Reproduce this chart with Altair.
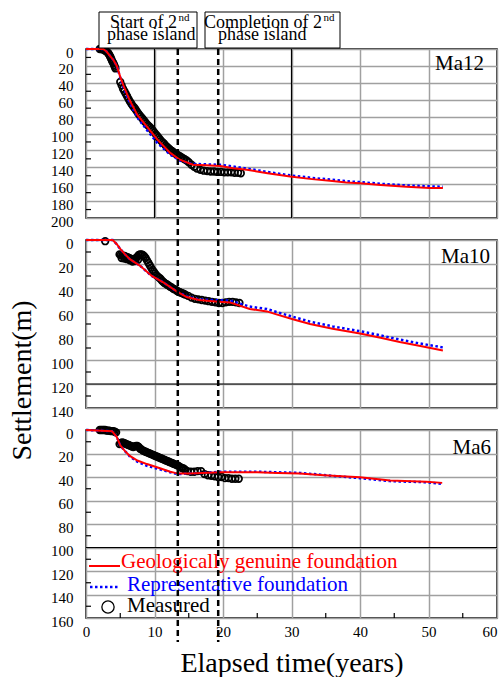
import altair as alt
import pandas as pd

FONT = "Liberation Serif"
PANEL_W = 411
GRID = "#a0a0a0"

# ---------------- data ----------------
x_ticks = [0, 10, 20, 30, 40, 50, 60]
x_minor = [5, 15, 25, 35, 45, 55]
event_years = [13.4, 19.3]
annot_line1 = ["Start of 2", "Completion of 2"]
annot_sup = ["nd", "nd"]
annot_line2 = ["phase island", "phase island"]
legend_labels = ["Geologically genuine foundation", "Representative foundation", "Measured"]
panel_labels = ["Ma12", "Ma10", "Ma6"]

# Ma12
ma12_y_ticks = [0, 20, 40, 60, 80, 100, 120, 140, 160, 180, 200]
ma12_y_minor = [10, 30, 50, 70, 90, 110, 130, 150, 170, 190]
ma12_dark_x = [10, 30]
ma12_dark_y = []
ma12_geo_t = [0, 2.5, 3.0, 3.5, 4.0, 4.5, 5.0, 5.5, 6.4, 7.5, 8.9, 10.4, 12.3, 13.7, 15.6, 17.5, 19.6,
              21.5, 23.5, 26.5, 29.8, 33.0, 35.6, 38.0, 40.0, 43.0, 46.8, 50.2, 52.1]
ma12_geo_s = [0, 0, 3, 8, 13, 20, 33, 44, 61, 78, 92, 107, 123, 131, 137, 137.5, 138.5,
              141, 143, 147, 151, 154, 156, 158, 159, 161, 163, 164.5, 164.5]
ma12_rep_t = ma12_geo_t
ma12_rep_s = [0, 0, 3, 8, 13, 20, 34, 46, 64, 81, 96, 111, 125, 132, 136, 136.5, 137,
              139, 141.5, 145.5, 149.5, 152.5, 154.5, 156.5, 157.5, 159.5, 161.5, 162.5, 163]
ma12_meas_t = [2.0, 2.2, 2.4, 2.6, 2.8, 3.0, 3.2, 3.3, 3.4, 3.5, 3.6, 3.7, 3.8, 3.9, 4.0, 4.1, 4.2, 4.3,
               5.0, 5.2, 5.4, 5.6, 5.8, 6.0, 6.2, 6.4, 6.6, 6.8, 7.0, 7.2, 7.4, 7.6, 7.8, 8.0, 8.2, 8.4,
               8.6, 8.8, 9.0, 9.2, 9.4, 9.6, 9.8, 10.0, 10.2, 10.4, 10.6, 10.8, 11.0, 11.2, 11.4, 11.6,
               11.8, 12.0, 12.2, 12.4, 12.6, 12.8, 13.0, 13.2, 13.4, 13.6, 13.8, 14.0, 14.2, 14.4,
               14.7, 15.0, 15.4, 15.8, 16.2, 16.7, 17.2, 17.7, 18.2, 18.7, 19.2, 19.7, 20.2, 20.7,
               21.2, 21.7, 22.2, 22.6]
ma12_meas_s = [0, 0, 0.5, 1, 2, 3, 4.5, 5.5, 7, 8.5, 10, 12, 14, 15.5, 17, 19, 21, 23,
               39, 43, 47, 50, 53, 56, 59, 62, 64.5, 67, 69, 71, 73.5, 76, 78, 80, 82, 84,
               86, 88, 90, 91.5, 93, 95, 97, 99, 101, 103, 105, 107, 109, 110.5, 112, 114,
               115.5, 117, 118.5, 120, 121, 122.5, 123.5, 124.5, 125.5, 126.5, 127.5, 128.5, 129.5, 130.5,
               132, 134, 137, 139.5, 141.5, 143, 144, 144.5, 145, 145, 145.5, 145.5, 146, 146,
               146, 146.5, 146.5, 147]

# Ma10
ma10_y_ticks = [0, 20, 40, 60, 80, 100, 120, 140]
ma10_y_minor = [10, 30, 50, 70, 90, 110, 130]
ma10_dark_x = []
ma10_dark_y = [120]
ma10_geo_t = [0, 3.9, 4.5, 5.0, 5.7, 6.4, 7.9, 9.6, 11.2, 13.3, 14.7, 16.5, 18.5, 21.0, 23.9, 26.4,
              27.8, 30.2, 32.7, 36.0, 40.0, 43.0, 45.8, 49.0, 52.1]
ma10_geo_s = [0, 0, 3.5, 7.5, 12, 16, 21.5, 30, 35, 43, 47.5, 50, 51, 52, 57.5, 59.5,
              62, 66, 70, 74, 78, 81.5, 85, 88.5, 92]
ma10_rep_t = ma10_geo_t
ma10_rep_s = [0, 0, 3.5, 7.5, 12, 16, 21.5, 30, 35, 43, 47, 49.5, 50, 50.5, 55.5, 57.5,
              60, 64, 68, 72, 76, 79.5, 83, 86.5, 89.5]
ma10_meas_t = [2.8,
               4.9, 5.1, 5.3, 5.5, 5.7, 5.9, 6.1, 6.3, 6.5, 6.7, 6.9, 7.1, 7.3, 7.5, 7.7, 7.9, 8.1,
               8.3, 8.5, 8.7, 8.9, 9.1, 9.3, 9.5, 9.7, 9.9, 10.1, 10.3, 10.5, 10.7, 10.9, 11.1,
               11.3, 11.5, 11.7, 11.9, 12.1, 12.3, 12.5, 12.7, 12.9, 13.1, 13.3, 13.5, 13.7, 13.9,
               14.1, 14.3, 14.5,
               5.2, 5.6, 6.0, 6.4, 6.8, 7.2, 7.6,
               14.9, 15.4, 15.9, 16.4, 16.9, 17.4, 17.9, 18.4, 18.9, 19.4, 19.9, 20.4, 20.9,
               21.4, 21.9, 22.4]
ma10_meas_s = [1,
               12, 12.5, 13, 13, 13.5, 14, 14.5, 15, 15.5, 16, 16.5, 16, 15, 14, 12.5, 12, 12,
               12.5, 13.5, 15, 17, 19, 21, 23, 25, 26.5, 28, 29.5, 30.5, 31.5, 32.5, 34,
               35, 36, 36.5, 37.5, 38, 39, 39.5, 40.5, 41, 41.5, 42.5, 43, 43.5, 44,
               44.5, 45, 45.5,
               15, 15.5, 16, 17, 18, 17.5, 16.5,
               46.5, 48, 49, 49.5, 50, 50.5, 51, 51.5, 52, 52.5, 52.5, 52, 51.5,
               51.5, 52, 52.5]

# Ma6
ma6_y_ticks = [0, 20, 40, 60, 80, 100, 120, 140, 160]
ma6_y_minor = [10, 30, 50, 70, 90, 110, 130, 150]
ma6_dark_x = []
ma6_dark_y = [100]
ma6_geo_t = [0, 3.8, 4.5, 5.0, 5.7, 6.4, 7.5, 8.9, 10.8, 12.3, 13.0, 13.7, 15.0, 17.0, 19.6, 22.0,
             25.0, 28.0, 31.2, 34.2, 36.0, 40.0, 44.4, 49.7, 52.0]
ma6_geo_s = [0, 1, 6, 13, 18, 22, 26, 29, 32.5, 35.5, 36.5, 37, 37, 36.5, 36, 36,
             36, 36.5, 37, 38.3, 39, 40.3, 43, 44, 45]
ma6_rep_t = ma6_geo_t
ma6_rep_s = [0, 1, 6, 13, 18, 22.5, 27, 30.5, 33.5, 36, 37, 37.5, 37, 36.5, 35.5, 35.5,
             35.5, 36, 36.5, 38, 39, 41, 43.5, 44.5, 45.8]
ma6_meas_t = [2.0, 2.2, 2.4, 2.6, 2.8, 3.0, 3.2, 3.4, 3.6, 3.8, 4.0, 4.2, 4.4,
              4.9, 5.1, 5.3, 5.5, 5.7, 5.9, 6.1, 6.3, 6.5, 6.7, 6.9, 7.1, 7.3, 7.5, 7.7, 7.9, 8.1,
              8.3, 8.5, 8.7, 8.9, 9.1, 9.3, 9.5, 9.7, 9.9, 10.1, 10.3, 10.5, 10.7, 10.9, 11.1,
              11.3, 11.5, 11.7, 11.9, 12.1, 12.3, 12.5, 12.7, 12.9, 13.1, 13.3, 13.5, 13.7, 13.9,
              14.1, 14.3, 14.5,
              14.8, 15.3, 15.8, 16.3, 16.8, 17.3, 17.8, 18.3, 18.8, 19.3, 19.8, 20.3, 20.8,
              21.3, 21.8, 22.3]
ma6_meas_s = [0, 0, 0, 0, 0, 0.5, 0.5, 0.5, 1, 1, 1, 1.5, 2,
              12, 11, 10.5, 11, 11.5, 12, 12.5, 13, 13.5, 14, 14.5, 14, 13.5, 13.5, 14.5, 16, 16.5,
              17.5, 18, 18.5, 19, 19.5, 20, 20.5, 21, 21.5, 22, 22.5, 23, 23.5, 24, 24.5,
              25, 25.5, 26, 26.5, 27, 27.5, 28, 28.5, 29, 29.5, 30, 30.5, 31.5, 32,
              32.5, 33, 34,
              35, 35.5, 35.5, 35, 35, 37.5, 38.5, 39, 39.5, 40, 40, 41, 41,
              41.5, 41.5, 41.5]


def one(**kw):
    return pd.DataFrame({k: [v] for k, v in kw.items()})


def make_panel(idx, ymax, h, below, y_ticks, y_minor, dark_x, dark_y,
               geo_t, geo_s, rep_t, rep_s, m_t, m_s, label_xy):
    xs = alt.Scale(domain=[0, 60], nice=False, zero=False)
    ys = alt.Scale(domain=[0, ymax], reverse=True, nice=False, zero=False)
    bottom = idx == 2
    mid = idx == 1
    top = idx == 0
    if bottom:
        xa = alt.Axis(values=x_ticks, labels=True, labelPadding=6,
                      labelAlign={"condition": {"test": "datum.value >= 60", "value": "right"},
                                  "value": "center"},
                      title="Elapsed time(years)", titleFontSize=28, titlePadding=10)
    else:
        xa = alt.Axis(values=x_ticks, labels=False, title=None)
    if mid:
        ya = alt.Axis(values=y_ticks, title="Settlement(m)", titleFontSize=28,
                      titleX=-56, titleY=140, titleAngle=270, titleAlign="center",
                      titleBaseline="alphabetic")
    else:
        ya = alt.Axis(values=y_ticks, title=None)
    X = alt.X("t:Q", scale=xs, axis=xa)
    Y = alt.Y("s:Q", scale=ys, axis=ya)

    layers = []
    if dark_x:
        layers.append(alt.Chart(pd.DataFrame({"t": dark_x})).mark_rule(
            color="black", strokeWidth=1.2).encode(x=X))
    if dark_y:
        layers.append(alt.Chart(pd.DataFrame({"s": dark_y})).mark_rule(
            color="black", strokeWidth=1.2).encode(y=Y))
    layers.append(alt.Chart(pd.DataFrame({"s": y_minor})).mark_rule(
        color="black", strokeWidth=1.2).encode(y=Y, x=alt.value(0), x2=alt.value(5)))
    if bottom:
        layers.append(alt.Chart(pd.DataFrame({"t": x_minor})).mark_rule(
            color="black", strokeWidth=1.2).encode(x=X, y=alt.value(h), y2=alt.value(h - 5)))
    layers.append(alt.Chart(pd.DataFrame({"t": m_t, "s": m_s})).mark_point(
        shape="circle", filled=False, color="black", size=44, strokeWidth=1.7,
        opacity=1).encode(x=X, y=Y))
    layers.append(alt.Chart(pd.DataFrame({"t": rep_t, "s": rep_s})).mark_line(
        color="#0000ff", strokeWidth=2.5, strokeDash=[2.5, 2.5]).encode(x=X, y=Y))
    layers.append(alt.Chart(pd.DataFrame({"t": geo_t, "s": geo_s})).mark_line(
        color="#ff0000", strokeWidth=2).encode(x=X, y=Y))
    layers.append(alt.Chart(one(label=panel_labels[idx])).mark_text(
        font=FONT, fontSize=21, align="right", baseline="alphabetic", color="black"
    ).encode(x=alt.value(label_xy[0]), y=alt.value(label_xy[1]), text="label:N"))

    if bottom:
        layers.append(alt.Chart(one(a=0)).mark_rule(color="#ff0000", strokeWidth=2).encode(
            x=alt.value(3), x2=alt.value(34), y=alt.value(136)))
        layers.append(alt.Chart(one(a=0)).mark_rule(
            color="#0000ff", strokeWidth=2.5, strokeDash=[2.5, 2.5]).encode(
            x=alt.value(4), x2=alt.value(34), y=alt.value(157)))
        layers.append(alt.Chart(one(a=0)).mark_point(
            shape="circle", filled=False, color="black", size=150, strokeWidth=1.3,
            opacity=1).encode(x=alt.value(22), y=alt.value(177)))
        for lab, col, lx, ly in zip(legend_labels, ["#ff0000", "#0000ff", "black"],
                                    [35, 41, 41], [138, 161, 182]):
            layers.append(alt.Chart(one(label=lab)).mark_text(
                font=FONT, fontSize=21, align="left", baseline="alphabetic", color=col
            ).encode(x=alt.value(lx), y=alt.value(ly), text="label:N"))

    layers.append(alt.Chart(pd.DataFrame({"t": event_years})).mark_rule(
        color="black", strokeWidth=2.5, strokeDash=[6, 4]).encode(
        x=X, y=alt.value(0), y2=alt.value(h + below)))

    if top:
        for (bx0, bx1, tx1, tx2), l1, sp, l2 in zip(
                [(13, 111, 91, 21), (119, 254, 236, 132)], annot_line1, annot_sup, annot_line2):
            layers.append(alt.Chart(one(a=0)).mark_rect(
                fill="white", stroke="black", strokeWidth=1).encode(
                x=alt.value(bx0), x2=alt.value(bx1), y=alt.value(-37), y2=alt.value(-1)))
            layers.append(alt.Chart(one(label=l1)).mark_text(
                font=FONT, fontSize=18, align="right", baseline="alphabetic", color="black"
            ).encode(x=alt.value(tx1), y=alt.value(-21), text="label:N"))
            layers.append(alt.Chart(one(label=sp)).mark_text(
                font=FONT, fontSize=11, align="left", baseline="alphabetic", color="black"
            ).encode(x=alt.value(tx1 + 1.5), y=alt.value(-28), text="label:N"))
            layers.append(alt.Chart(one(label=l2)).mark_text(
                font=FONT, fontSize=18, align="left", baseline="alphabetic", color="black"
            ).encode(x=alt.value(tx2), y=alt.value(-9), text="label:N"))

    return alt.layer(*layers).properties(width=PANEL_W, height=h)


p1 = make_panel(0, 200, 169, 22, ma12_y_ticks, ma12_y_minor, ma12_dark_x, ma12_dark_y,
                ma12_geo_t, ma12_geo_s, ma12_rep_t, ma12_rep_s, ma12_meas_t, ma12_meas_s, (398, 21))
p2 = make_panel(1, 140, 168, 23, ma10_y_ticks, ma10_y_minor, ma10_dark_x, ma10_dark_y,
                ma10_geo_t, ma10_geo_s, ma10_rep_t, ma10_rep_s, ma10_meas_t, ma10_meas_s, (404, 23))
p3 = make_panel(2, 160, 188, 24, ma6_y_ticks, ma6_y_minor, ma6_dark_x, ma6_dark_y,
                ma6_geo_t, ma6_geo_s, ma6_rep_t, ma6_rep_s, ma6_meas_t, ma6_meas_s, (405, 24))

chart = alt.vconcat(p1, p2, p3, spacing=22, bounds="flush").properties(
    padding={"left": 7, "top": 10, "right": 2, "bottom": 0},
    background="white",
).configure_view(
    stroke="black", strokeWidth=1.5
).configure_axis(
    domain=False, ticks=False, grid=True, gridColor=GRID, gridWidth=1.5,
    labelFont=FONT, labelFontSize=15, labelColor="black", labelFlush=False,
    labelOverlap=False, titleFont=FONT, titleColor="black", titleFontWeight="normal",
).configure_axisY(
    labelPadding=13, labelOffset=3
)

chart.save("out.html", embed_options={"renderer": "svg", "actions": False})
